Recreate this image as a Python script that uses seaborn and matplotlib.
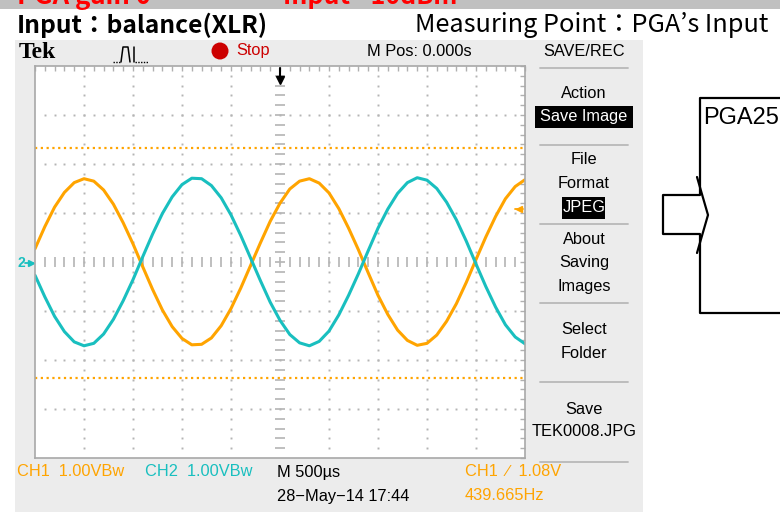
import matplotlib
matplotlib.use("Agg")
import matplotlib.pyplot as plt
import matplotlib.font_manager as fm
from matplotlib.patches import Rectangle, Ellipse
from matplotlib.lines import Line2D
import numpy as np
import seaborn as sns

# ---------------- data ----------------
time_us = [-2500, -2400, -2300, -2200, -2100, -2000, -1900, -1800, -1700, -1600,
           -1500, -1400, -1300, -1200, -1100, -1000, -900, -800, -700, -600,
           -500, -400, -300, -200, -100, 0, 100, 200, 300, 400,
           500, 600, 700, 800, 900, 1000, 1100, 1200, 1300, 1400,
           1500, 1600, 1700, 1800, 1900, 2000, 2100, 2200, 2300, 2400, 2500]
ch1_volts = [0.27, 0.72, 1.12, 1.42, 1.62, 1.70, 1.65, 1.47, 1.18, 0.80,
             0.37, -0.10, -0.56, -0.98, -1.32, -1.56, -1.69, -1.68, -1.55, -1.30,
             -0.95, -0.53, -0.07, 0.39, 0.83, 1.20, 1.49, 1.65, 1.70, 1.61,
             1.41, 1.09, 0.69, 0.25, -0.22, -0.68, -1.07, -1.39, -1.60, -1.70,
             -1.66, -1.49, -1.21, -0.85, -0.42, 0.05, 0.51, 0.93, 1.29, 1.54, 1.68]
ch2_volts = [-0.27, -0.71, -1.11, -1.42, -1.63, -1.71, -1.66, -1.47, -1.17, -0.79,
             -0.36, 0.11, 0.57, 0.99, 1.33, 1.58, 1.71, 1.70, 1.56, 1.31,
             0.96, 0.54, 0.08, -0.38, -0.82, -1.19, -1.48, -1.65, -1.71, -1.62,
             -1.41, -1.08, -0.68, -0.24, 0.23, 0.69, 1.08, 1.40, 1.62, 1.72,
             1.67, 1.50, 1.22, 0.86, 0.43, -0.04, -0.50, -0.92, -1.28, -1.53, -1.67]
cursor_levels = [2.33, -2.37]
trigger_level = 1.08

top_red = ["PGA gain 0", "Input  -10dBm"]
title_left = "Input：balance(XLR)"
title_right = "Measuring Point：PGA’s Input"
menu_items = ["Action", "Save Image", "File", "Format", "JPEG", "About", "Saving",
              "Images", "Select", "Folder", "Save", "TEK0008.JPG"]
bottom_labels = ["CH1  1.00VBw", "CH2  1.00VBw", "M 500\u00b5s", "28\u2212May\u221214 17:44",
                 "CH1  \u2215  1.08V", "439.665Hz"]

# ---------------- styles ----------------
ORANGE = "#ffa400"
CYAN = "#19bfbf"
SCOPE_BG = "#ececec"
GRIDC = "#b4b4b4"

sns.set_style("white")
names = {f.name for f in fm.fontManager.ttflist}
if "Liberation Sans Narrow" in names:
    SCOPE_FONT, SFS = "Liberation Sans Narrow", 13.3
else:
    SCOPE_FONT, SFS = "Liberation Sans", 11.8
CJK = ["Noto Sans CJK JP", "DejaVu Sans"]
plt.rcParams["font.family"] = CJK

W, H = 780, 512
fig = plt.figure(figsize=(W / 100, H / 100), dpi=100)
fig.patch.set_facecolor("white")


def fx(x):
    return x / W


def fy(y):
    return 1 - y / H


def rect(x0, y0, x1, y1, **kw):
    fig.add_artist(Rectangle((fx(x0), fy(y1)), (x1 - x0) / W, (y1 - y0) / H,
                             transform=fig.transFigure, **kw))


def line(pts, **kw):
    xs = [fx(p[0]) for p in pts]
    ys = [fy(p[1]) for p in pts]
    fig.add_artist(Line2D(xs, ys, transform=fig.transFigure, **kw))


def txt(x, y, s, **kw):
    kw.setdefault("va", "center")
    kw.setdefault("ha", "left")
    fig.text(fx(x), fy(y), s, **kw)


# backgrounds (behind the graticule axes)
rect(0, 0, W, 9, facecolor="#c0c0c0", edgecolor="none", zorder=-2)
rect(15, 40, 643, H + 2, facecolor=SCOPE_BG, edgecolor="none", zorder=-2)

# top red (cut off at the top edge, as in the reference)
txt(17, 4, top_red[0], va="baseline", color="#ff0000", fontsize=18.5, fontweight="bold", family=CJK)
txt(283, 4, top_red[1], va="baseline", color="#ff0000", fontsize=18, fontweight="bold", family=CJK)

# titles
txt(17, 25, title_left, color="black", fontsize=17.7, fontweight="bold", family=CJK)
txt(415, 25, title_right, color="black", fontsize=18.2, family=CJK)

# scope header
txt(19, 52, "Tek", fontsize=17, fontweight="bold", family=["Liberation Serif", "DejaVu Serif"], color="black")
line([(113, 62), (121, 62)], color="black", lw=1, ls=(0, (1, 1)))
line([(121, 62), (123, 47), (128, 47), (130, 62)], color="black", lw=1.1)
line([(134, 47), (134, 62)], color="black", lw=1.1)
line([(135, 62), (148, 62)], color="black", lw=1, ls=(0, (1, 1)))
fig.add_artist(Ellipse((fx(220), fy(51)), 17 / W, 17 / H, transform=fig.transFigure,
                       facecolor="#cc0000", edgecolor="none"))
txt(236, 51, "Stop", color="#cc0000", fontsize=SFS, family=SCOPE_FONT)
txt(367, 51, "M Pos: 0.000s", color="black", fontsize=SFS, family=SCOPE_FONT)
txt(584, 51, "SAVE/REC", ha="center", color="black", fontsize=SFS, family=SCOPE_FONT)

# menu
menu_y = [93, 117, 160, 184, 208, 239, 263, 287, 330, 353, 409, 432]
inverted = {"Save Image": (535, 106, 633, 128), "JPEG": (562, 197, 605, 219)}
for s, y in zip(menu_items, menu_y):
    col = "black"
    if s in inverted:
        x0, y0, x1, y1 = inverted[s]
        rect(x0, y0, x1, y1, facecolor="black", edgecolor="none")
        col = "white"
    txt(584, y, s, ha="center", color=col, fontsize=SFS, family=SCOPE_FONT)
for y in [68, 145, 224, 303, 382, 462]:
    line([(540, y), (628, y)], color="#b8b8b8", lw=1.3)

# bottom readouts
txt(17, 472, bottom_labels[0], color=ORANGE, fontsize=SFS, family=SCOPE_FONT)
txt(145, 472, bottom_labels[1], color=CYAN, fontsize=SFS, family=SCOPE_FONT)
txt(277, 472, bottom_labels[2], color="black", fontsize=SFS, family=SCOPE_FONT)
txt(277, 496, bottom_labels[3], color="black", fontsize=SFS, family=SCOPE_FONT)
txt(465, 472, bottom_labels[4], color=ORANGE, fontsize=SFS, family=[SCOPE_FONT, "DejaVu Sans"])
txt(465, 496, bottom_labels[5], color=ORANGE, fontsize=SFS, family=SCOPE_FONT)

# block diagram on the right
line([(790, 98), (700, 98), (700, 195), (663, 195), (663, 234), (700, 234), (700, 313), (790, 313)],
     color="black", lw=1.6)
line([(697, 177), (708, 215), (697, 253)], color="black", lw=1.6)
txt(703, 118, "PGA25", color="black", fontsize=17, family=["Liberation Sans", "DejaVu Sans"])

# ---------------- scope graticule axes ----------------
ax = fig.add_axes([fx(35), fy(458), 490 / W, 392 / H])
ax.set_zorder(5)
ax.set_facecolor("white")
ax.set_xlim(-2500, 2500)
ax.set_ylim(-4, 4)
for sp in ax.spines.values():
    sp.set_color("#a8a8a8")
    sp.set_linewidth(1.2)
ax.set_xticks(np.arange(-2500, 2501, 100))
ax.set_yticks(np.arange(-4, 4.01, 0.2))
ax.tick_params(direction="in", length=3.5, width=1, color="#b0b0b0",
               top=True, right=True, labelbottom=False, labelleft=False)

# dotted grid
for gx in range(-2000, 2001, 500):
    if gx == 0:
        continue
    ys = np.arange(-3.8, 3.81, 0.2)
    ax.plot(np.full_like(ys, gx), ys, ls="none", marker="s", ms=1.4, color=GRIDC, mec="none")
for gy in range(-3, 4):
    if gy == 0:
        continue
    xs = np.arange(-2400, 2401, 100)
    ax.plot(xs, np.full_like(xs, gy, dtype=float), ls="none", marker="s", ms=1.4, color=GRIDC, mec="none")
# centre lines with small dashes
cx = np.arange(-2400, 2401, 100)
ax.vlines(cx, -0.1, 0.1, color=GRIDC, lw=1.2)
cy = np.arange(-3.8, 3.81, 0.2)
ax.hlines(cy, -50, 50, color=GRIDC, lw=1.2)

# cursors
for lv in cursor_levels:
    ax.axhline(lv, color=ORANGE, lw=1.6, ls=(0, (1, 1.6)))

# traces
sns.lineplot(x=time_us, y=ch1_volts, ax=ax, color=ORANGE, lw=2.2, legend=False)
sns.lineplot(x=time_us, y=ch2_volts, ax=ax, color=CYAN, lw=2.2, legend=False)
ax.set_xlabel("")
ax.set_ylabel("")

# markers: trigger position, trigger level, channel 2 ground
ax.plot([0, 0], [3.95, 3.75], color="black", lw=1.5, clip_on=False)
ax.plot([0], [3.72], marker="v", ms=6, color="black", clip_on=False)
ax.plot([2440], [trigger_level], marker="<", ms=5, color=ORANGE, clip_on=False)
ax.plot([2400, 2480], [trigger_level, trigger_level], color=ORANGE, lw=1.3)
txt(17, 263, "2", color=CYAN, fontsize=10, fontweight="bold", family=SCOPE_FONT)
line([(25, 263), (33, 263)], color=CYAN, lw=1.3)
fig.add_artist(Line2D([fx(31)], [fy(263)], marker=">", ms=4, color=CYAN, transform=fig.transFigure))

fig.savefig("out.png", dpi=100)
